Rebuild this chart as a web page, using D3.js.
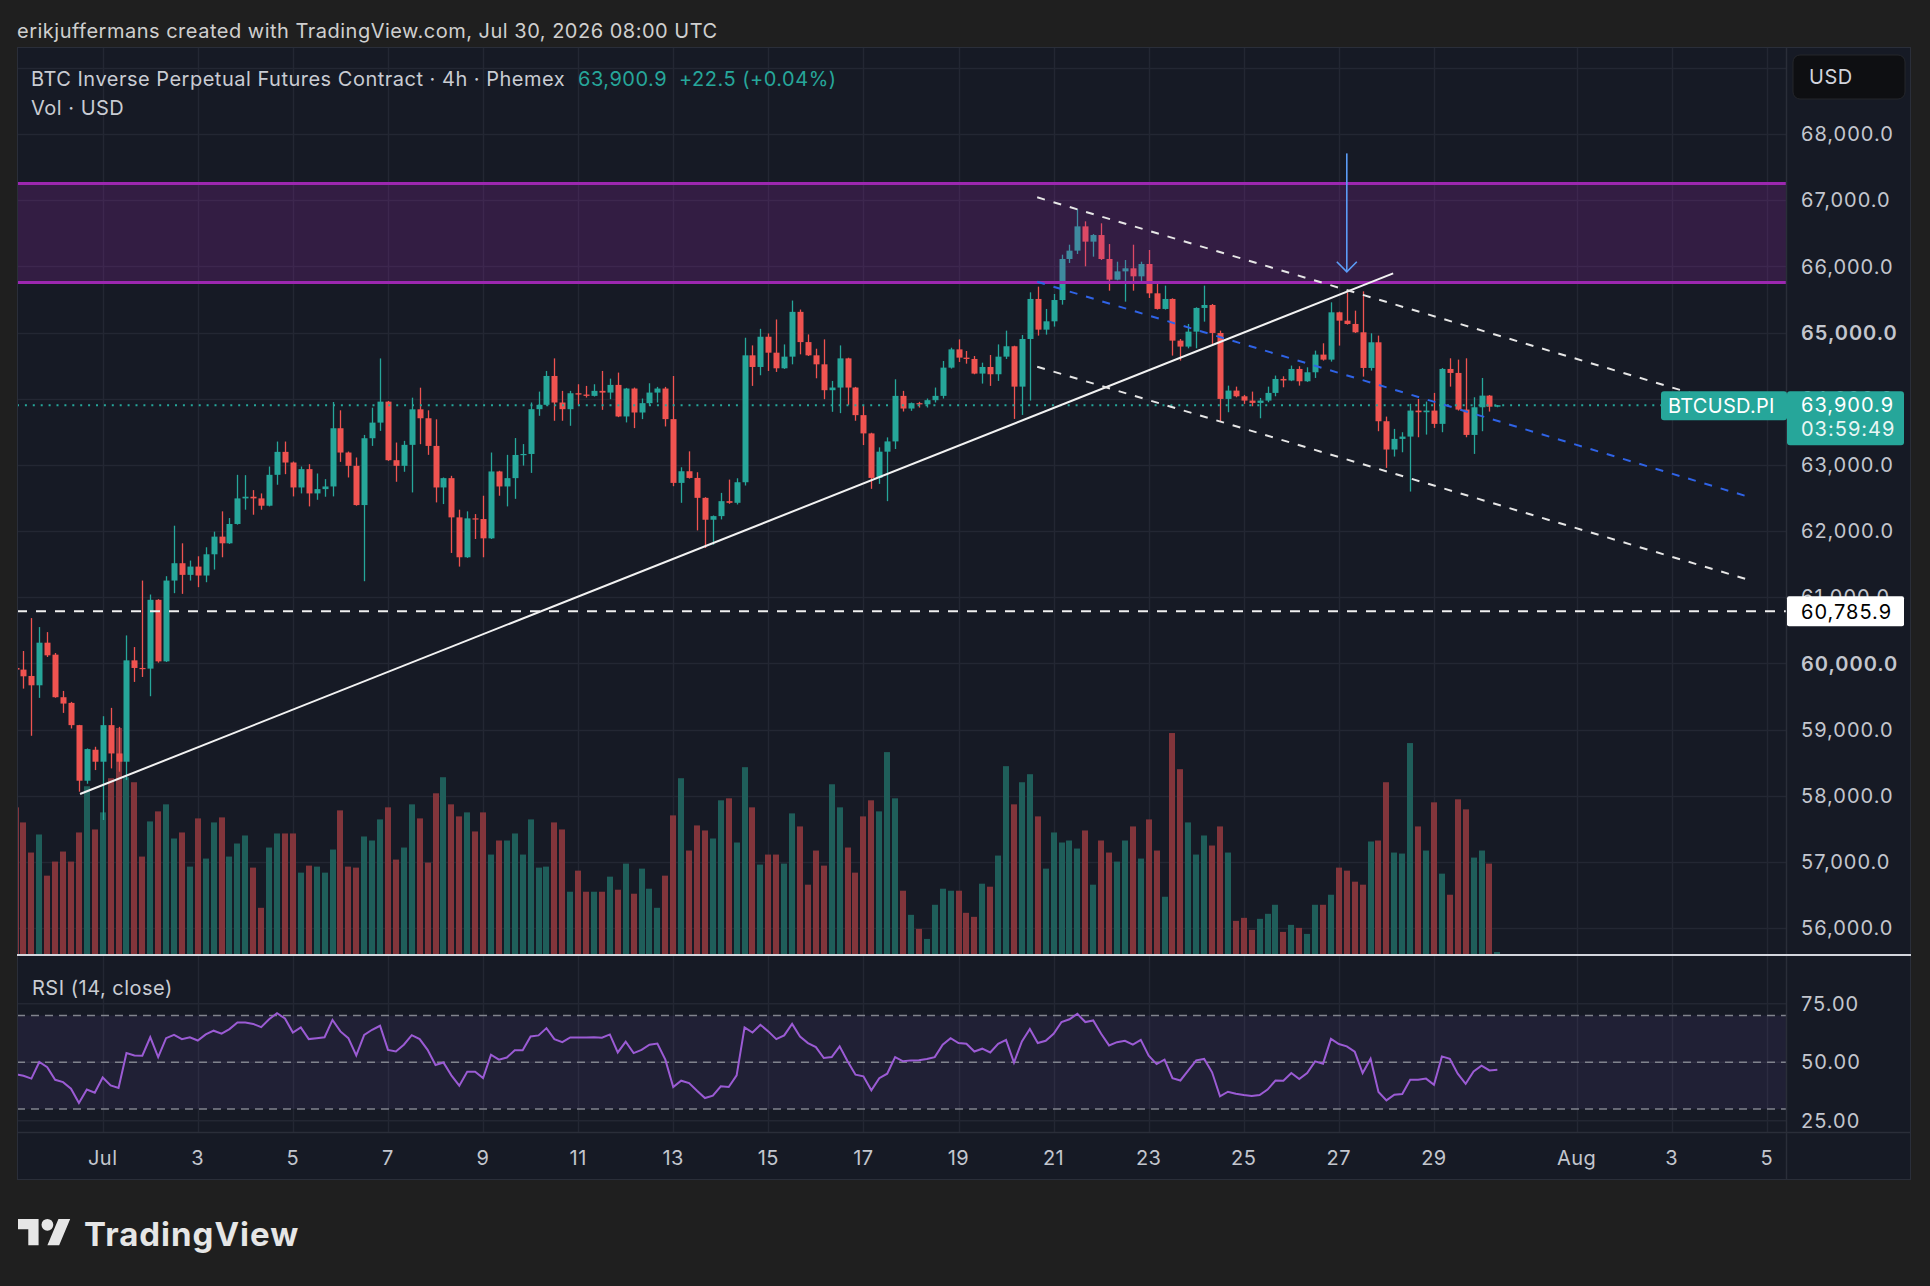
<!DOCTYPE html>
<html><head><meta charset="utf-8">
<script src="https://cdn.jsdelivr.net/npm/d3@7"></script>
<style>
html,body{margin:0;padding:0;background:#1f1f1f;}
svg{display:block;}
text{font-family:Inter,"Noto Sans",sans-serif;}
</style></head><body>
<svg id="c" width="1930" height="1286"></svg>
<script>
// ---------- DATA ----------
const firstBar = "2026-06-29T04:00:00Z";   // 4h bars
const barHours = 4;
const opens = [59930,59905,59809,59668,60312,60131,59488,59402,59066,58226,58694,
58513,59066,58638,58513,60045,59930,59920,60960,60030,61251,61513,61337,61462,61327,61648,61915,61814,62106,62493,62518,62493,62382,62849,63196,63035,62658,62935,62568,62633,62673,63553,63186,62985,62392,63402,63638,63955,63070,62985,63302,63839,63704,63286,62658,62799,62206,61603,62191,62181,61889,62900,62673,62799,
63149,63164,63841,63907,64343,63942,63841,64082,64062,64042,64118,64092,64208,63731,64153,63791,63932,64092,64153,63691,62727,62903,62802,62501,62170,62225,62451,62426,62737,64655,64479,64936,64695,64459,64635,65312,64855,64655,64519,64128,64168,64609,64168,63751,63475,62802,63199,63354,64042,63851,63932,63915,63977,64042,64469,64745,64620,64600,64379,64479,64369,
64635,64792,64182,64902,65507,65043,65169,65491,66111,66237,66604,66373,66473,66111,65799,65924,65970,65849,66035,65592,65356,65507,64877,64787,65013,65371,65416,64993,63996,64122,64036,63971,63936,63971,64087,64298,64275,64449,64263,64399,64666,64590,65305,65179,65129,65003,64464,64852,63659,63231,63392,63427,63820,63795,63820,63619,64449,64389,63835,63452,63870,64046,63878.4];
const highs = [59960,60186,60684,60548,60472,60156,59583,59417,59070,58714,58739,
59201,59327,59040,60422,60246,61251,61040,60970,61317,62080,61814,61553,61618,61754,61990,62297,62196,62849,62844,62618,62568,62975,63352,63352,63050,62975,63010,62869,62784,63950,63824,63201,63111,63452,63864,64608,63965,63337,63362,64015,64166,63824,63688,62809,62834,62322,62297,62256,62533,63186,62910,63151,63405,
63314,63942,64107,64419,64609,64118,64118,64218,64193,64218,64419,64303,64394,64163,64168,64002,64233,64178,64178,64343,62963,63204,62888,62511,62235,62576,62777,62797,64921,64805,65056,64986,65197,64820,65483,65347,64971,64755,64896,64268,64805,64619,64178,63892,63485,63264,63415,64293,64118,63942,63952,64002,64168,64569,64770,64896,64720,64645,64544,64660,64820,
65028,64800,64963,65607,65693,65356,65582,66176,66327,66866,66680,66488,66650,66337,66070,66096,66327,66070,66247,65743,65708,65517,64902,65129,65381,65708,65431,65028,64197,64182,64057,64107,64011,64182,64349,64338,64500,64490,64474,64726,64837,65456,65315,65607,65330,65622,64988,64953,63729,63543,63493,63921,63996,63956,64087,64464,64610,64590,64610,64021,64313,64056,63905];
const lows = [59880,59618,58905,59478,60096,59480,59251,59015,58060,58180,58387,
57632,58412,58362,58236,59719,59794,59503,60010,60020,61060,61050,61251,61151,61226,61417,61603,61804,62096,62322,62246,62322,62372,62699,62859,62523,62568,62372,62472,62518,62523,63045,62809,62382,61241,63286,63513,63060,62744,62895,62583,63312,63151,62432,62407,61668,61462,61593,61879,61603,61879,62533,62372,62486,
62988,62878,63741,63897,63666,63666,63590,63907,64017,64032,63831,63992,63721,63641,63555,63691,63892,63942,63580,62677,62426,62792,62009,61743,61793,62175,62411,62401,62687,64193,64354,64419,64404,64449,64519,64670,64645,64308,63992,63801,63781,63907,63666,63299,62637,62712,62451,63239,63806,63816,63866,63866,63942,64002,64454,64554,64529,64369,64228,64193,64268,
64600,63694,63754,63971,64953,64968,65089,65421,66050,66186,66000,66146,66096,65632,65789,65466,65632,65733,65522,65346,65346,64651,64575,64761,64761,65164,64827,63659,63795,64021,63921,63885,63704,63946,64036,64172,64265,64197,64253,64313,64575,64560,64802,65119,64993,64333,64424,63508,62954,63125,63190,62596,63417,63457,63558,63493,64182,63820,63417,63165,63508,63805,63870];
const closes = [59905,59804,59668,60312,60121,59488,59392,59066,58226,58704,58513,
59066,58638,58513,60045,59930,59920,60960,60030,61251,61513,61337,61462,61327,61648,61915,61814,62106,62493,62518,62493,62382,62849,63196,63035,62658,62935,62568,62633,62673,63553,63186,62985,62392,63402,63638,63955,63070,62985,63302,63839,63704,63286,62658,62799,62206,61603,62191,62181,61889,62900,62673,62799,63149,
63164,63841,63907,64343,63942,63841,64082,64062,64042,64118,64092,64208,63731,64153,63791,63932,64092,64153,63691,62727,62903,62802,62501,62170,62225,62451,62426,62737,64655,64479,64936,64695,64459,64635,65312,64855,64655,64519,64128,64168,64609,64168,63751,63475,62802,63199,63354,64042,63851,63932,63915,63977,64042,64469,64745,64620,64600,64379,64479,64369,64635,
64792,64182,64902,65507,65043,65169,65491,66111,66237,66604,66373,66473,66111,65799,65924,65970,65849,66035,65592,65356,65507,64877,64787,65013,65371,65416,64993,63996,64122,64036,63971,63936,63971,64087,64298,64275,64449,64263,64399,64666,64590,65305,65179,65129,65003,64464,64852,63659,63231,63392,63427,63820,63795,63820,63619,64449,64389,63835,63452,63870,64046,63878.4,63900.9];
const volumes = [146,131,101,119,78,92,102,92,121,167,124,
141,175,225,176,171,97,132,142,149,115,121,87,135,95,131,136,97,110,118,86,46,106,120,120,120,81,88,87,81,104,143,87,86,117,113,134,146,94,106,149,135,91,160,176,149,137,141,122,141,99,113,113,120,
99,134,86,87,131,124,62,83,62,62,62,77,64,90,60,85,65,46,78,138,175,103,128,123,115,153,155,111,186,146,89,99,99,90,140,127,69,103,88,169,146,106,81,137,153,142,201,155,63,39,25,15,49,65,63,63,41,37,70,67,98,
187,149,171,179,137,85,121,111,113,105,123,69,113,101,92,113,127,95,134,103,57,220,184,131,99,118,108,127,101,33,36,24,35,40,49,22,29,26,20,49,49,59,86,83,72,69,112,113,171,101,100,210,127,103,151,80,59,154,144,96,103,90,2];
const rsiValues = [44.9,44.2,43.0,50.1,47.9,42.5,41.5,38.7,32.6,38.3,37.0,
43.5,40.1,39.0,53.9,52.9,52.8,60.7,52.2,60.3,61.7,59.9,60.7,59.3,61.9,63.5,62.2,64.2,67.0,67.0,66.4,65.0,68.4,71.0,68.7,62.7,64.9,59.9,60.3,60.7,68.1,63.2,60.3,52.9,61.7,63.9,65.6,55.3,54.6,57.5,61.6,59.9,55.3,48.8,49.9,44.4,40.0,45.9,45.9,43.2,53.2,51.1,52.0,55.1,
55.1,61.0,61.5,64.6,59.9,58.6,60.6,60.6,60.6,60.7,60.5,61.9,54.2,58.8,53.9,55.3,57.5,58.0,51.1,39.4,42.1,41.1,37.8,34.7,35.7,39.7,39.4,44.4,64.9,62.7,66.0,63.2,59.9,61.5,66.4,61.0,58.2,56.5,51.8,52.2,56.8,50.4,44.7,44.0,38.0,43.2,45.1,52.2,50.4,50.8,50.9,51.4,52.2,57.5,60.3,58.2,57.9,54.6,55.8,54.2,57.9,
59.6,49.9,58.9,64.2,58.2,59.2,62.2,67.2,68.4,70.7,67.2,67.9,62.2,57.2,58.6,59.2,57.5,59.6,52.8,49.2,51.1,43.2,42.2,46.5,50.8,51.4,45.7,35.4,37.4,36.5,36.0,35.6,36.0,38.3,42.2,42.1,45.4,42.8,45.4,50.4,49.4,60.0,57.8,56.8,54.5,45.4,51.5,37.3,33.7,36.1,36.4,42.5,42.5,43.0,40.4,52.5,51.5,45.1,40.8,46.1,48.5,46.5,46.8];

const priceTicks = [56000,57000,58000,59000,60000,61000,62000,63000,64000,65000,66000,67000,68000];
const boldPriceTicks = [60000,65000];
const gridPrices = [56000,57000,58000,59000,60000,61000,62000,63000,64000,65000,66000,67000,68000,69000];
const timeTickDates = ["2026-07-01","2026-07-03","2026-07-05","2026-07-07","2026-07-09","2026-07-11","2026-07-13","2026-07-15","2026-07-17","2026-07-19","2026-07-21","2026-07-23","2026-07-25","2026-07-27","2026-07-29","2026-08-01","2026-08-03","2026-08-05"];
const timeTickLabels = ["Jul","3","5","7","9","11","13","15","17","19","21","23","25","27","29","Aug","3","5"];
const rsiTicks = [75,50,25];
const rsiBands = [70,50,30];
const zone = [65755, 67253];
const supportLevel = 60785.9;
const lastPrice = 63900.9;
const countdown = "03:59:49";
const risingLine = [["2026-06-30T12:34:00Z",58025],["2026-07-28T03:24:00Z",65894]];
const channelUpper = [["2026-07-20T15:43:00Z",67043],["2026-08-04T15:36:00Z",63815]];
const channelLower = [["2026-07-20T15:43:00Z",64483],["2026-08-04T15:36:00Z",61256]];
const channelMid = [["2026-07-20T15:43:00Z",65767],["2026-08-04T15:36:00Z",62509]];
const arrow = [["2026-07-27T04:00:00Z",67707],["2026-07-27T04:00:00Z",65918]];

// ---------- LAYOUT ----------
const W=1930,H=1286;
const L=17, R=1786, AX=1911, T=47, PB=955, RT=957, RB=1132, TB=1180;
const UP="#26a69a", DN="#ef5350", BG="#161a25", GRID="#232733", TXT="#c3c6ce";

const svg=d3.select("#c");
const x=d3.scaleUtc().domain([new Date("2026-07-01T00:00:00Z"),new Date("2026-08-01T00:00:00Z")]).range([102.7,1576.6]);
const y=d3.scaleLinear().domain([56000,68000]).range([928,134]);
const yr=d3.scaleLinear().domain([30,70]).range([1109,1015.5]);
const yv=d3.scaleLinear().domain([0,225]).range([954,728]);
const t0=new Date(firstBar);
const bars=opens.map((o,i)=>({t:d3.utcHour.offset(t0,i*barHours),o,h:highs[i],l:lows[i],c:closes[i],v:volumes[i],r:rsiValues[i]}));

// background
svg.append("rect").attr("width",W).attr("height",H).attr("fill","#1f1f1f");
svg.append("rect").attr("x",L).attr("y",T).attr("width",AX-L).attr("height",TB-T).attr("fill",BG);

const defs=svg.append("defs");
defs.append("clipPath").attr("id","cp").append("rect").attr("x",L).attr("y",T).attr("width",R-L).attr("height",PB-T);
defs.append("clipPath").attr("id","cr").append("rect").attr("x",L).attr("y",RT).attr("width",R-L).attr("height",RB-RT);

// grid
const g=svg.append("g");
g.selectAll(".hg").data(gridPrices).join("line").attr("x1",L).attr("x2",R).attr("y1",d=>Math.round(y(d))+0.5).attr("y2",d=>Math.round(y(d))+0.5).attr("stroke",GRID).attr("stroke-width",1.5);
g.selectAll(".vg").data(timeTickDates).join("line").attr("x1",d=>Math.round(x(new Date(d+"T00:00:00Z")))+0.5).attr("x2",d=>Math.round(x(new Date(d+"T00:00:00Z")))+0.5).attr("y1",T).attr("y2",RB).attr("stroke",GRID).attr("stroke-width",1.5);
g.selectAll(".rg").data(rsiTicks).join("line").attr("x1",L).attr("x2",R).attr("y1",d=>yr(d)).attr("y2",d=>yr(d)).attr("stroke",GRID).attr("stroke-width",1.5);

// price pane
const pp=svg.append("g").attr("clip-path","url(#cp)");
pp.selectAll(".vol").data(bars).join("rect")
 .attr("x",d=>Math.round(x(d.t))-3).attr("width",6)
 .attr("y",d=>yv(d.v)).attr("height",d=>yv(0)-yv(d.v))
 .attr("fill",d=>d.c>=d.o?"#1f5e5a":"#82353b");
pp.selectAll(".wick").data(bars).join("line")
 .attr("x1",d=>Math.round(x(d.t))+0.5).attr("x2",d=>Math.round(x(d.t))+0.5)
 .attr("y1",d=>y(d.h)).attr("y2",d=>y(d.l))
 .attr("stroke",d=>d.c>=d.o?UP:DN).attr("stroke-width",1.3);
pp.selectAll(".body").data(bars).join("rect")
 .attr("x",d=>Math.round(x(d.t))-2.5).attr("width",6)
 .attr("y",d=>y(Math.max(d.o,d.c))).attr("height",d=>Math.max(1.2,Math.abs(y(d.o)-y(d.c))))
 .attr("fill",d=>d.c>=d.o?UP:DN);

// resistance zone
pp.append("rect").attr("x",L).attr("width",R-L).attr("y",y(zone[1])).attr("height",y(zone[0])-y(zone[1])).attr("fill","rgba(156,39,176,0.22)");
zone.forEach(p=>pp.append("line").attr("x1",L).attr("x2",R).attr("y1",y(p)).attr("y2",y(p)).attr("stroke","#9c27b0").attr("stroke-width",3));

// support dashed
pp.append("line").attr("x1",L).attr("x2",R).attr("y1",y(supportLevel)).attr("y2",y(supportLevel)).attr("stroke","#f0f0f0").attr("stroke-width",2).attr("stroke-dasharray","10,9");
// last price dotted
pp.append("line").attr("x1",L).attr("x2",R).attr("y1",y(lastPrice)).attr("y2",y(lastPrice)).attr("stroke",UP).attr("stroke-width",2).attr("stroke-dasharray","2,5.9");

const ln=d3.line().x(d=>x(new Date(d[0]))).y(d=>y(d[1]));
pp.append("path").attr("d",ln(risingLine)).attr("stroke","#f2f2f2").attr("stroke-width",2).attr("fill","none");
[channelUpper,channelLower].forEach(c=>pp.append("path").attr("d",ln(c)).attr("stroke","#e6e6e6").attr("stroke-width",2).attr("stroke-dasharray","8,9").attr("fill","none"));
pp.append("path").attr("d",ln(channelMid)).attr("stroke","#2f63e6").attr("stroke-width",2).attr("stroke-dasharray","8,9").attr("fill","none");
// arrow
const ax0=x(new Date(arrow[0][0])), ay0=y(arrow[0][1]), ay1=y(arrow[1][1]);
pp.append("line").attr("x1",ax0).attr("x2",ax0).attr("y1",ay0).attr("y2",ay1).attr("stroke","#5b9cf6").attr("stroke-width",1.6);
pp.append("path").attr("d",`M${ax0-10},${ay1-10}L${ax0},${ay1}L${ax0+10},${ay1-10}`).attr("stroke","#5b9cf6").attr("stroke-width",1.6).attr("fill","none");

// RSI pane
const rp=svg.append("g").attr("clip-path","url(#cr)");
rp.append("rect").attr("x",L).attr("width",R-L).attr("y",yr(70)).attr("height",yr(30)-yr(70)).attr("fill","rgba(126,87,194,0.1)");
rp.selectAll(".band").data(rsiBands).join("line").attr("x1",L).attr("x2",R).attr("y1",d=>yr(d)).attr("y2",d=>yr(d)).attr("stroke","#80838d").attr("stroke-width",1.5).attr("stroke-dasharray","8,6");
rp.append("path").attr("d",d3.line().x(d=>x(d.t)).y(d=>yr(d.r))(bars)).attr("stroke","#9b5bd4").attr("stroke-width",2).attr("fill","none");

// borders / separators
svg.append("line").attr("x1",R+0.5).attr("x2",R+0.5).attr("y1",T).attr("y2",TB).attr("stroke","#2a2e39").attr("stroke-width",1.5);
svg.append("line").attr("x1",L).attr("x2",AX).attr("y1",RB+0.5).attr("y2",RB+0.5).attr("stroke","#2a2e39").attr("stroke-width",1.5);
svg.append("rect").attr("x",L+0.5).attr("y",T+0.5).attr("width",AX-L-1).attr("height",TB-T-1).attr("fill","none").attr("stroke","#2a2e39");
svg.append("line").attr("x1",L).attr("x2",AX).attr("y1",955).attr("y2",955).attr("stroke","#d3d6dd").attr("stroke-width",2);

// price axis labels
const fmt=d3.format(",.1f");
const AXF=20, AXLS=1;
svg.selectAll(".pl").data(priceTicks).join("text").attr("x",1801).attr("y",d=>y(d)).attr("dy","0.36em")
 .attr("fill",TXT).attr("font-size",AXF).attr("letter-spacing",AXLS).attr("font-weight",d=>boldPriceTicks.includes(d)?600:400).text(d=>fmt(d));
svg.selectAll(".rl").data(rsiTicks).join("text").attr("x",1801).attr("y",d=>yr(d)).attr("dy","0.36em")
 .attr("fill",TXT).attr("font-size",AXF).attr("letter-spacing",AXLS).text(d=>d3.format(".2f")(d));

// support label
svg.append("rect").attr("x",1787).attr("y",y(supportLevel)-15).attr("width",117).attr("height",30).attr("rx",2).attr("fill","#ffffff");
svg.append("text").attr("x",1801).attr("y",y(supportLevel)).attr("dy","0.36em").attr("fill","#000").attr("font-size",AXF).attr("letter-spacing",AXLS).text(fmt(supportLevel));
// last price label
svg.append("rect").attr("x",1787).attr("y",y(lastPrice)-14).attr("width",117).attr("height",54).attr("rx",3).attr("fill",UP);
svg.append("text").attr("x",1801).attr("y",y(lastPrice)).attr("dy","0.36em").attr("fill","#fff").attr("font-size",AXF).attr("letter-spacing",AXLS).text(fmt(lastPrice));
svg.append("text").attr("x",1801).attr("y",y(lastPrice)+23.5).attr("dy","0.36em").attr("fill","#e8f6f4").attr("font-size",AXF).attr("letter-spacing",AXLS).text(countdown);
svg.append("rect").attr("x",1661).attr("y",y(lastPrice)-14).attr("width",126).attr("height",29).attr("rx",3).attr("fill",UP);
svg.append("text").attr("x",1668).attr("y",y(lastPrice)+1).attr("dy","0.36em").attr("fill","#fff").attr("font-size",20).attr("letter-spacing",0.3).text("BTCUSD.PI");

// USD box
svg.append("rect").attr("x",1793).attr("y",55).attr("width",112).attr("height",44).attr("rx",7).attr("fill","#0e0f12").attr("stroke","#24262b");
svg.append("text").attr("x",1809).attr("y",77).attr("dy","0.36em").attr("fill","#d1d4dc").attr("font-size",20).attr("letter-spacing",0.5).text("USD");

// time axis
svg.selectAll(".tl").data(timeTickDates).join("text").attr("x",d=>x(new Date(d+"T00:00:00Z"))).attr("y",1165)
 .attr("text-anchor","middle").attr("fill",TXT).attr("font-size",20).attr("letter-spacing",0.5).text((d,i)=>timeTickLabels[i]);

// legend & titles
const LF=20, LLS=0.5;
svg.append("text").attr("x",17).attr("y",38).attr("fill","#cfcfcf").attr("font-size",LF).attr("letter-spacing",LLS).text("erikjuffermans created with TradingView.com, Jul 30, 2026 08:00 UTC");
svg.append("text").attr("x",31).attr("y",86).attr("fill","#c9ccd3").attr("font-size",LF).attr("letter-spacing",LLS).text("BTC Inverse Perpetual Futures Contract · 4h · Phemex");
svg.append("text").attr("x",578).attr("y",86).attr("fill",UP).attr("font-size",LF).attr("letter-spacing",LLS).text(fmt(lastPrice));
svg.append("text").attr("x",679).attr("y",86).attr("fill",UP).attr("font-size",LF).attr("letter-spacing",LLS).text("+22.5 (+0.04%)");
svg.append("text").attr("x",31).attr("y",115).attr("fill","#c9ccd3").attr("font-size",LF).attr("letter-spacing",LLS).text("Vol · USD");
svg.append("text").attr("x",32).attr("y",995).attr("fill","#c9ccd3").attr("font-size",LF).attr("letter-spacing",LLS).text("RSI (14, close)");

// TradingView logo
const lg=svg.append("g").attr("transform","translate(18,1213) scale(1.47)").attr("fill","#e6e6e6");
lg.append("path").attr("d","M14 22H7V11H0V4h14v18zM28 22h-8l7.5-18h8L28 22z");
lg.append("circle").attr("cx",20).attr("cy",8).attr("r",4);
svg.append("text").attr("x",84).attr("y",1246).attr("fill","#e6e6e6").attr("font-size",33).attr("font-weight",700).attr("letter-spacing",1).text("TradingView");
</script></body></html>
